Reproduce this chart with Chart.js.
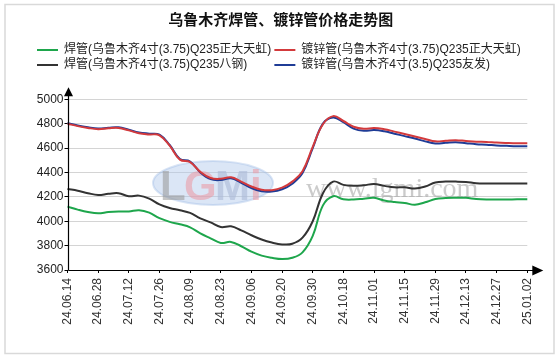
<!DOCTYPE html>
<html>
<head>
<meta charset="utf-8">
<script src="https://cdn.jsdelivr.net/npm/chart.js@4/dist/chart.umd.min.js"></script>
<style>
html,body{margin:0;padding:0;background:#fff;}
canvas{display:block;}
</style>
</head>
<body>
<canvas id="c" width="560" height="357"></canvas>
<script>
// ---- data ----
const dates = [
  '24.06.14','24.06.19','24.06.24','24.06.28','24.07.03','24.07.08','24.07.12','24.07.17','24.07.22','24.07.26',
  '24.07.31','24.08.05','24.08.09','24.08.14','24.08.19','24.08.23','24.08.28','24.09.02','24.09.06','24.09.11',
  '24.09.16','24.09.20','24.09.24','24.09.27','24.09.30','24.10.09','24.10.14','24.10.18','24.10.23','24.10.28',
  '24.11.01','24.11.06','24.11.11','24.11.15','24.11.20','24.11.25','24.11.29','24.12.04','24.12.09','24.12.13',
  '24.12.18','24.12.23','24.12.27','24.12.30','24.12.31','25.01.02'
];
const tickDates = ['24.06.14','24.06.28','24.07.12','24.07.26','24.08.09','24.08.23','24.09.06','24.09.20',
  '24.09.30','24.10.18','24.11.01','24.11.15','24.11.29','24.12.13','24.12.27','25.01.02'];

const weldZhengda = [4120,4095,4075,4065,4075,4080,4080,4090,4070,4025,
  3995,3975,3950,3900,3860,3822,3830,3795,3750,3718,
  3700,3690,3700,3745,3880,4130,4205,4180,4178,4185,
  4192,4170,4158,4150,4135,4155,4182,4190,4192,4192,
  4182,4178,4178,4178,4180,4180];
const galvZhengda = [4800,4780,4765,4755,4762,4765,4745,4722,4712,4705,
  4620,4505,4485,4405,4355,4348,4360,4325,4285,4258,
  4255,4275,4325,4410,4610,4795,4862,4822,4775,4758,
  4765,4755,4735,4715,4695,4675,4655,4660,4665,4658,
  4652,4650,4645,4642,4640,4640];
const weldBagang = [4265,4250,4230,4215,4225,4230,4205,4210,4185,4138,
  4108,4090,4068,4024,3990,3952,3958,3925,3885,3850,
  3825,3810,3815,3865,4000,4230,4325,4298,4290,4295,
  4305,4290,4278,4278,4268,4285,4318,4325,4325,4322,
  4312,4310,4310,4310,4310,4310];
const galvYoufa = [4805,4785,4770,4760,4767,4770,4750,4728,4718,4710,
  4625,4510,4490,4400,4345,4338,4352,4315,4272,4245,
  4243,4262,4308,4395,4600,4800,4850,4812,4760,4742,
  4748,4738,4718,4698,4678,4655,4638,4643,4648,4640,
  4632,4628,4622,4618,4615,4615];

const seriesNames = [
  '焊管(乌鲁木齐4寸(3.75)Q235正大天虹)',
  '镀锌管(乌鲁木齐4寸(3.75)Q235正大天虹)',
  '焊管(乌鲁木齐4寸(3.75)Q235八钢)',
  '镀锌管(乌鲁木齐4寸(3.5)Q235友发)'
];
const yTickValues = [3600,3800,4000,4200,4400,4600,4800,5000];
const titleText = '乌鲁木齐焊管、镀锌管价格走势图';
const watermarkText = 'www.lgmi.com';

// ---- styles ----
const FONT = "'Liberation Sans', 'Noto Sans CJK SC', sans-serif";
const colors = ['#1ea64c', '#d33a3c', '#333333', '#1f3c96'];
const legendPad = ['', '', '\u3000\u3000', ''];

function mk(i, data) {
  return {
    label: seriesNames[i], data: data,
    borderColor: colors[i], backgroundColor: colors[i],
    borderWidth: 2, pointRadius: 0, pointHoverRadius: 0,
    tension: 0.4, fill: false
  };
}

const decor = {
  id: 'decor',
  beforeDraw(chart) {
    const ctx = chart.ctx;
    ctx.save();
    ctx.fillStyle = '#fff';
    ctx.fillRect(0, 0, chart.width, chart.height);
    ctx.strokeStyle = '#d9d9d9';
    ctx.lineWidth = 1.5;
    ctx.strokeRect(5, 4.5, 549, 349);
    ctx.restore();
  },
  beforeDatasetsDraw(chart) {
    const ctx = chart.ctx;
    ctx.save();
    // logo ellipse
    ctx.beginPath();
    ctx.ellipse(213, 183, 60, 22, 0, 0, Math.PI * 2);
    ctx.fillStyle = 'rgba(175,200,235,0.45)';
    ctx.fill();
    ctx.strokeStyle = 'rgba(150,180,225,0.35)';
    ctx.lineWidth = 2;
    ctx.stroke();
    ctx.font = "bold 42px 'Liberation Sans', sans-serif";
    ctx.textBaseline = 'alphabetic';
    ctx.fillStyle = 'rgba(150,150,150,0.55)';
    ctx.fillText('L', 160, 200);
    ctx.fillStyle = 'rgba(235,150,160,0.55)';
    ctx.fillText('G', 184, 200);
    ctx.fillStyle = 'rgba(170,185,215,0.6)';
    ctx.fillText('M', 215, 200);
    ctx.fillStyle = 'rgba(235,150,160,0.55)';
    ctx.fillText('i', 250, 200);
    // site text
    ctx.font = "28px 'Liberation Serif', serif";
    ctx.fillStyle = 'rgba(160,160,160,0.55)';
    ctx.fillText(watermarkText, 306, 197);
    ctx.restore();
  },
  afterDraw(chart) {
    const ctx = chart.ctx;
    const a = chart.chartArea;
    const ys = chart.scales.y;
    const x0 = Math.round(a.left) + 0.5;
    const yb = Math.round(a.bottom) + 0.5;
    const topY = ys.getPixelForValue(5000) - 12;
    ctx.save();
    ctx.strokeStyle = '#000';
    ctx.fillStyle = '#000';
    ctx.lineWidth = 1.2;
    ctx.beginPath();
    ctx.moveTo(x0, yb);
    ctx.lineTo(x0, topY + 6);
    ctx.moveTo(x0, yb);
    ctx.lineTo(a.right + 8, yb);
    ctx.stroke();
    // arrows
    ctx.beginPath();
    ctx.moveTo(x0, topY);
    ctx.lineTo(x0 - 4.5, topY + 9);
    ctx.lineTo(x0 + 4.5, topY + 9);
    ctx.closePath();
    ctx.fill();
    ctx.beginPath();
    ctx.moveTo(a.right + 16, yb);
    ctx.lineTo(a.right + 5, yb - 5);
    ctx.lineTo(a.right + 5, yb + 5);
    ctx.closePath();
    ctx.fill();
    ctx.restore();
  }
};

Chart.defaults.font.family = FONT;

new Chart(document.getElementById('c'), {
  type: 'line',
  data: {
    labels: dates,
    datasets: [mk(0, weldZhengda), mk(1, galvZhengda), mk(2, weldBagang), mk(3, galvYoufa)]
  },
  options: {
    responsive: false,
    animation: false,
    events: [],
    layout: { padding: { left: 34, right: 32.7, top: 6, bottom: 17 } },
    plugins: {
      title: {
        display: true, text: titleText, color: '#111',
        font: { size: 15, weight: 'bold', family: FONT },
        padding: { top: 6, bottom: 11 }
      },
      legend: {
        display: true, position: 'top', align: 'start',
        labels: {
          boxWidth: 21, boxHeight: 2, padding: 3, color: '#222',
          font: { size: 12, family: FONT },
          generateLabels(chart) {
            const items = Chart.defaults.plugins.legend.labels.generateLabels(chart);
            items.forEach(it => {
              it.lineWidth = 0;
              it.text = it.text + (legendPad[it.datasetIndex] || '');
            });
            return items;
          }
        }
      },
      tooltip: { enabled: false }
    },
    scales: {
      x: {
        type: 'category',
        offset: false,
        border: { display: false },
        grid: { display: true, drawOnChartArea: false, drawTicks: true, tickLength: 3, color: '#000' },
        ticks: {
          autoSkip: false, maxRotation: 90, minRotation: 90, padding: 5,
          color: '#333', font: { size: 12, family: FONT },
          callback(v, i) { return tickDates.includes(dates[i]) ? dates[i] : null; }
        },
        afterFit(scale) { scale.height = 70; }
      },
      y: {
        type: 'linear', min: 3600, max: 5150,
        border: { display: false },
        grid: { color: '#d4d4d4', lineWidth: 1, drawTicks: true, tickLength: 3, tickColor: '#000' },
        afterBuildTicks(scale) { scale.ticks = yTickValues.map(v => ({ value: v })); },
        ticks: {
          padding: 1, color: '#222', font: { size: 12, family: FONT },
          callback(v) { return String(v); }
        },
        afterFit(scale) { scale.width = 33.5; }
      }
    }
  },
  plugins: [decor]
});
</script>
</body>
</html>
